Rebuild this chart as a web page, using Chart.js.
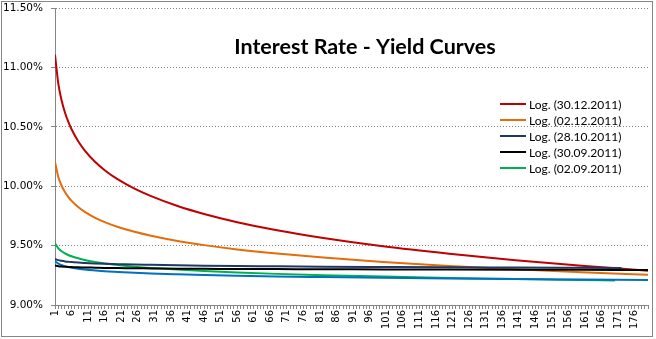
<!DOCTYPE html>
<html>
<head>
<meta charset="utf-8">
<script src="https://cdn.jsdelivr.net/npm/chart.js@4.4.1/dist/chart.umd.min.js"></script>
<style>
html, body { margin: 0; padding: 0; background: #fff; }
</style>
</head>
<body>
<canvas id="chart" width="656" height="339"></canvas>
<script>
'use strict'

var xFull  = [1, 2, 3, 4, 5, 6, 8, 10, 13, 16, 20, 25, 30, 38, 46, 56, 68, 82, 100, 120, 140, 160, 180];
var xNavy  = [1, 2, 3, 4, 5, 6, 8, 10, 13, 16, 20, 25, 30, 38, 46, 56, 68, 82, 100, 120, 140, 160, 172];
var xGreen = [1, 2, 3, 4, 5, 6, 8, 10, 13, 16, 20, 25, 30, 38, 46, 56, 68, 82, 100, 120, 140, 160, 170];

// rates in %
var red30Dec   = [11.106, 10.863, 10.721, 10.621, 10.543, 10.479, 10.378, 10.300, 10.208, 10.135, 10.057, 9.979, 9.916, 9.833, 9.766, 9.697, 9.629, 9.564, 9.494, 9.431, 9.376, 9.330, 9.289];
var orange02Dec = [10.205, 10.078, 10.004, 9.951, 9.911, 9.877, 9.825, 9.784, 9.736, 9.698, 9.657, 9.616, 9.583, 9.539, 9.504, 9.468, 9.433, 9.399, 9.362, 9.329, 9.301, 9.276, 9.255];
var navy28Oct  = [9.388, 9.378, 9.372, 9.367, 9.364, 9.361, 9.357, 9.354, 9.350, 9.347, 9.344, 9.340, 9.338, 9.334, 9.331, 9.328, 9.326, 9.323, 9.320, 9.317, 9.315, 9.313, 9.312];
var black30Sep = [9.332, 9.327, 9.324, 9.322, 9.320, 9.319, 9.317, 9.316, 9.314, 9.312, 9.311, 9.309, 9.308, 9.306, 9.305, 9.303, 9.302, 9.301, 9.299, 9.298, 9.297, 9.296, 9.295];
var green02Sep = [9.519, 9.477, 9.452, 9.435, 9.421, 9.410, 9.393, 9.379, 9.363, 9.350, 9.337, 9.323, 9.312, 9.298, 9.286, 9.274, 9.262, 9.251, 9.239, 9.228, 9.219, 9.210, 9.207];
var blueCurve  = [9.369, 9.348, 9.335, 9.327, 9.320, 9.314, 9.306, 9.299, 9.291, 9.284, 9.278, 9.271, 9.265, 9.258, 9.252, 9.246, 9.240, 9.235, 9.229, 9.223, 9.218, 9.214, 9.210];

var xLabels = [1, 6, 11, 16, 21, 26, 31, 36, 41, 46, 51, 56, 61, 66, 71, 76, 81, 86, 91, 96, 101, 106, 111, 116, 121, 126, 131, 136, 141, 146, 151, 156, 161, 166, 171, 176];
var yTicks = [9.0, 9.5, 10.0, 10.5, 11.0, 11.5];

var legendItems = [
  { label: 'Log. (30.12.2011)', color: '#C00000' },
  { label: 'Log. (02.12.2011)', color: '#E46C0A' },
  { label: 'Log. (28.10.2011)', color: '#1F3864' },
  { label: 'Log. (30.09.2011)', color: '#000000' },
  { label: 'Log. (02.09.2011)', color: '#00B050' }
];

function pts(xs, ys) {
  return xs.map(function(x, i) { return { x: x, y: ys[i] }; });
}

function line(xs, ys, color) {
  return {
    data: pts(xs, ys),
    borderColor: color,
    borderWidth: 2,
    pointRadius: 0,
    fill: false,
    cubicInterpolationMode: 'monotone'
  };
}

var extras = {
  id: 'extras',
  afterDraw: function(chart) {
    var ctx = chart.ctx;
    ctx.save();
    // frame
    ctx.strokeStyle = '#868686';
    ctx.lineWidth = 1;
    ctx.strokeRect(1.5, 1.5, 651, 335);
    // title
    ctx.fillStyle = '#000';
    ctx.font = 'bold 21.5px Lato';
    ctx.textAlign = 'center';
    ctx.textBaseline = 'middle';
    ctx.fillText('Interest Rate - Yield Curves', 365, 47);
    // legend
    ctx.font = '12px Lato';
    ctx.textAlign = 'left';
    legendItems.forEach(function(item, i) {
      var y = 104 + i * 16;
      ctx.strokeStyle = item.color;
      ctx.lineWidth = 2;
      ctx.beginPath();
      ctx.moveTo(500, y);
      ctx.lineTo(526, y);
      ctx.stroke();
      ctx.fillStyle = '#000';
      ctx.fillText(item.label, 529, y + 1);
    });
    ctx.restore();
  }
};

var chart = new Chart(document.getElementById('chart').getContext('2d'), {
  type: 'line',
  data: {
    datasets: [
      line(xFull, black30Sep, '#000000'),
      line(xNavy, navy28Oct, '#1F3864'),
      line(xFull, blueCurve, '#0070C0'),
      line(xGreen, green02Sep, '#00B050'),
      line(xFull, orange02Dec, '#E46C0A'),
      line(xFull, red30Dec, '#C00000')
    ]
  },
  options: {
    responsive: false,
    animation: false,
    layout: { padding: { top: 8, right: 8, left: 0, bottom: 0 } },
    plugins: {
      legend: { display: false },
      tooltip: { enabled: false }
    },
    scales: {
      x: {
        type: 'linear',
        min: 1,
        max: 180,
        afterBuildTicks: function(axis) {
          var t = [];
          for (var v = 1; v <= 180; v++) t.push({ value: v });
          axis.ticks = t;
        },
        afterFit: function(axis) {
          axis.height = 34;
          axis.paddingLeft = 0;
          axis.paddingRight = 0;
        },
        ticks: {
          autoSkip: false,
          minRotation: 90,
          maxRotation: 90,
          padding: 1,
          color: '#000',
          font: { family: 'DejaVu Sans', size: 10 },
          callback: function(v) { return xLabels.indexOf(v) >= 0 ? String(v) : ''; }
        },
        grid: {
          drawOnChartArea: false,
          tickLength: 4,
          tickColor: '#868686'
        },
        border: { color: '#868686', width: 1 }
      },
      y: {
        min: 9,
        max: 11.5,
        afterBuildTicks: function(axis) {
          axis.ticks = yTicks.map(function(v) { return { value: v }; });
        },
        afterFit: function(axis) {
          axis.width = 55;
          axis.paddingTop = 0;
          axis.paddingBottom = 0;
        },
        ticks: {
          padding: 8,
          color: '#000',
          font: { family: 'DejaVu Sans', size: 10.5 },
          callback: function(v) { return v.toFixed(2) + '%'; }
        },
        grid: {
          color: '#808080',
          tickLength: 4,
          tickColor: '#868686',
          tickBorderDash: []
        },
        border: { color: '#868686', width: 1, dash: [1, 2] }
      }
    }
  },
  plugins: [extras]
});
</script>
</body>
</html>
